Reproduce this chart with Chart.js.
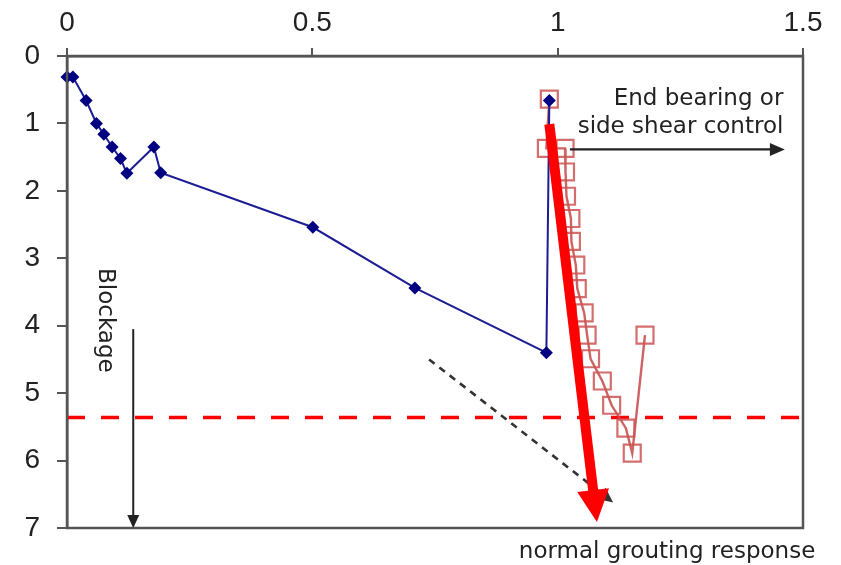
<!DOCTYPE html>
<html>
<head>
<meta charset="utf-8">
<script src="https://cdn.jsdelivr.net/npm/chart.js@4/dist/chart.umd.min.js"></script>
<style>
  html, body { margin: 0; padding: 0; background: #ffffff; }
  #wrap { width: 841px; height: 565px; }
</style>
</head>
<body>
<div id="wrap"><canvas id="chart" width="841" height="565"></canvas></div>
<script>
// Axis ticks
const xTicks = [0, 0.5, 1, 1.5];
const yTicks = [0, 1, 2, 3, 4, 5, 6, 7];

// Stage-by-stage response (diamonds)
const stageX = [0, 0.012, 0.039, 0.06, 0.075, 0.092, 0.109, 0.122, 0.177, 0.191, 0.501, 0.709, 0.977, 0.983];
const stageY = [0.31, 0.31, 0.66, 1.0, 1.16, 1.35, 1.52, 1.74, 1.35, 1.73, 2.54, 3.44, 4.40, 0.66];

// Later stages (open squares)
const laterX = [0.983, 0.977, 1.015, 1.016, 1.018, 1.027, 1.028, 1.037, 1.04, 1.054, 1.06, 1.067, 1.091, 1.11, 1.139, 1.152, 1.178];
const laterY = [0.64, 1.37, 1.37, 1.72, 2.08, 2.41, 2.75, 3.10, 3.45, 3.81, 4.14, 4.49, 4.82, 5.18, 5.52, 5.89, 4.14];

// Limit level (dashed red)
const limitX = [0, 1.5];
const limitY = [5.36, 5.36];

// Guide arrows: [x0, y0, x1, y1]
const trendArrow = [0.983, 1.01, 1.08, 6.91];
const normalArrow = [0.738, 4.50, 1.113, 6.62];
const blockageArrow = [0.135, 4.05, 0.135, 7.0];
const shearArrow = [1.025, 1.385, 1.463, 1.385];

// Text labels: [x, y]
const shearLabelPos = [1.46, 0.64, 1.06];
const blockageLabelPos = [0.077, 3.92];
const normalLabelPos = [1.223, 7.36];

const toPoints = (xs, ys) => xs.map((x, i) => ({ x: x, y: ys[i] }));

const axisColor = '#555555';
const tickFont = { family: '"Liberation Sans", Arial, sans-serif', size: 28 };

function arrowHead(ctx, x0, y0, x1, y1, len, halfW, color) {
  const a = Math.atan2(y1 - y0, x1 - x0);
  ctx.save();
  ctx.fillStyle = color;
  ctx.beginPath();
  ctx.moveTo(x1, y1);
  ctx.lineTo(x1 - len * Math.cos(a) + halfW * Math.sin(a), y1 - len * Math.sin(a) - halfW * Math.cos(a));
  ctx.lineTo(x1 - len * Math.cos(a) - halfW * Math.sin(a), y1 - len * Math.sin(a) + halfW * Math.cos(a));
  ctx.closePath();
  ctx.fill();
  ctx.restore();
}

function drawArrow(chart, spec, opts) {
  const xs = chart.scales.x, ys = chart.scales.y, ctx = chart.ctx;
  const x0 = xs.getPixelForValue(spec[0]), y0 = ys.getPixelForValue(spec[1]);
  const x1 = xs.getPixelForValue(spec[2]), y1 = ys.getPixelForValue(spec[3]);
  const a = Math.atan2(y1 - y0, x1 - x0);
  const bx = x1 - opts.headLen * 0.85 * Math.cos(a), by = y1 - opts.headLen * 0.85 * Math.sin(a);
  ctx.save();
  ctx.strokeStyle = opts.color;
  ctx.lineWidth = opts.width;
  ctx.lineCap = 'butt';
  if (opts.dash) ctx.setLineDash(opts.dash);
  ctx.beginPath();
  ctx.moveTo(x0, y0);
  ctx.lineTo(bx, by);
  ctx.stroke();
  ctx.restore();
  arrowHead(ctx, x0, y0, x1, y1, opts.headLen, opts.headHalf, opts.color);
}

const annotations = {
  id: 'annotations',
  afterDraw(chart) {
    const { ctx, chartArea: ca } = chart;
    const xs = chart.scales.x, ys = chart.scales.y;

    // plot frame
    ctx.save();
    ctx.strokeStyle = axisColor;
    ctx.lineWidth = 2.5;
    ctx.strokeRect(ca.left, ca.top, ca.right - ca.left, ca.bottom - ca.top);
    ctx.restore();

    drawArrow(chart, normalArrow, { color: '#333333', width: 2.6, dash: [7, 6], headLen: 15, headHalf: 7 });
    drawArrow(chart, blockageArrow, { color: '#222222', width: 2, headLen: 13, headHalf: 6 });
    drawArrow(chart, shearArrow, { color: '#222222', width: 2.2, headLen: 15, headHalf: 6.5 });
    drawArrow(chart, trendArrow, { color: '#ff0000', width: 10, headLen: 32, headHalf: 16 });

    ctx.save();
    ctx.fillStyle = '#222222';
    ctx.font = '23px "DejaVu Sans", sans-serif';
    ctx.textAlign = 'right';
    ctx.textBaseline = 'middle';
    const sx = xs.getPixelForValue(shearLabelPos[0]);
    ctx.fillText('End bearing or', sx, ys.getPixelForValue(shearLabelPos[1]));
    ctx.fillText('side shear control', sx, ys.getPixelForValue(shearLabelPos[2]));

    ctx.textAlign = 'center';
    ctx.fillText('normal grouting response', xs.getPixelForValue(normalLabelPos[0]), ys.getPixelForValue(normalLabelPos[1]));

    ctx.translate(xs.getPixelForValue(blockageLabelPos[0]), ys.getPixelForValue(blockageLabelPos[1]));
    ctx.rotate(Math.PI / 2);
    ctx.fillText('Blockage', 0, 0);
    ctx.restore();
  }
};

new Chart(document.getElementById('chart'), {
  type: 'scatter',
  data: {
    datasets: [
      {
        label: 'limit',
        data: toPoints(limitX, limitY),
        showLine: true,
        borderColor: '#ff0000',
        borderWidth: 3.5,
        borderDash: [18, 16],
        pointRadius: 0,
        order: 3
      },
      {
        label: 'later',
        data: toPoints(laterX, laterY),
        showLine: true,
        borderColor: 'rgba(196,72,72,0.85)',
        backgroundColor: 'rgba(0,0,0,0)',
        borderWidth: 2.4,
        pointStyle: 'rect',
        pointRadius: 12,
        pointBorderWidth: 2.2,
        pointBorderColor: 'rgba(205,85,85,0.85)',
        pointBackgroundColor: 'rgba(0,0,0,0)',
        order: 2
      },
      {
        label: 'stage',
        data: toPoints(stageX, stageY),
        showLine: true,
        borderColor: '#1c1c94',
        backgroundColor: '#000080',
        borderWidth: 2,
        pointStyle: 'rectRot',
        pointRadius: 6.5,
        pointBorderWidth: 0,
        pointBackgroundColor: '#000080',
        order: 1
      }
    ]
  },
  options: {
    responsive: false,
    animation: false,
    clip: false,
    layout: { padding: { left: 0, top: 0, right: 38, bottom: 37 } },
    plugins: { legend: { display: false }, tooltip: { enabled: false } },
    scales: {
      x: {
        type: 'linear',
        position: 'top',
        min: 0,
        max: 1.5,
        afterBuildTicks: (s) => { s.ticks = xTicks.map(v => ({ value: v })); },
        afterFit: (s) => { s.height = 56; },
        ticks: {
          font: tickFont,
          color: '#222222',
          padding: 8,
          maxRotation: 0,
          callback: (v) => String(v)
        },
        grid: { display: true, drawOnChartArea: false, drawTicks: true, tickLength: 8, color: axisColor, lineWidth: 2 },
        border: { display: true, color: axisColor, width: 2.5 }
      },
      y: {
        type: 'linear',
        position: 'left',
        reverse: true,
        min: 0,
        max: 7,
        afterBuildTicks: (s) => { s.ticks = yTicks.map(v => ({ value: v })); },
        afterFit: (s) => { s.width = 67; },
        ticks: {
          font: tickFont,
          color: '#222222',
          padding: 17,
          callback: (v) => String(v)
        },
        grid: { display: true, drawOnChartArea: false, drawTicks: true, tickLength: 10, color: axisColor, lineWidth: 2 },
        border: { display: true, color: axisColor, width: 2.5 }
      }
    }
  },
  plugins: [annotations]
});
</script>
</body>
</html>
